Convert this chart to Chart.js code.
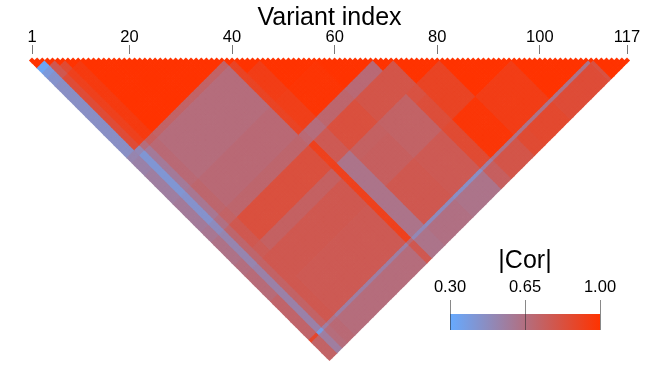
<!DOCTYPE html>
<html>
<head>
<meta charset="utf-8">
<style>
    html, body { margin: 0; background: #fff; }
    canvas { display: block; }
</style>
<script src="https://cdn.jsdelivr.net/npm/chart.js@4"></script>
</head>
<body>
<canvas id="ld" width="660" height="390"></canvas>
<script>
// first variant of each block, last entry closes the last block
const blockStarts = [1, 4, 6, 8, 11, 39, 41, 46, 57, 68, 72, 81, 85, 95, 110, 111, 118];

// |Cor| between blocks, upper triangle, one row per block
const corRows = [
    [1.00, .33, .40, .44, .46, .52, .54, .56, .58, .60, .63, .65, .67, .71, .88, .72],
    [1.00, .78, .78, .85, .50, .42, .42, .44, .48, .52, .52, .54, .54, .38, .56],
    [1.00, .86, .92, .66, .58, .58, .60, .64, .70, .70, .72, .72, .55, .66],
    [1.00, .96, .74, .68, .68, .70, .72, .78, .76, .78, .78, .60, .68],
    [1.00, .72, .66, .66, .68, .70, .83, .73, .78, .77, .55, .66],
    [1.00, .90, .90, .90, .68, .92, .92, .92, .92, .68, .78],
    [1.00, .94, .93, .66, .77, .62, .62, .62, .50, .62],
    [1.00, .99, .70, .83, .73, .74, .78, .48, .64],
    [1.00, .68, .80, .72, .72, .77, .46, .62],
    [1.00, .80, .82, .84, .86, .55, .74],
    [1.00, .90, .90, .98, .62, .80],
    [1.00, 1.00, .94, .62, .86],
    [1.00, .94, .62, .87],
    [1.00, .62, .85],
    [1.00, .82],
    [1.00]
];

const variantTicks = [1, 20, 40, 60, 80, 100, 117];
const corTicks = [0.30, 0.65, 1.00];
const lowColor = [102, 170, 255];
const highColor = [255, 51, 0];

function blockOf(variant) {
    let b = 0;
    while (variant >= blockStarts[b + 1]) b++;
    return b;
}

function corColor(cor) {
    const t = (cor - corTicks[0]) / (corTicks[2] - corTicks[0]);
    const c = lowColor.map((low, k) => Math.round(low + (highColor[k] - low) * t));
    return `rgb(${c[0]},${c[1]},${c[2]})`;
}

const cells = [];
const cellColors = [];
const lastVariant = blockStarts[blockStarts.length - 1] - 1;
for (let i = 1; i <= lastVariant; i++) {
    for (let j = i; j <= lastVariant; j++) {
        const bi = blockOf(i);
        const bj = blockOf(j);
        cells.push({ x: (i + j) / 2, y: j - i });
        cellColors.push(corColor(corRows[bi][bj - bi]));
    }
}

// colour bar with its ticks, title and labels
const corLegend = {
    id: 'corLegend',
    afterDraw(chart) {
        const ctx = chart.ctx;
        const left = 450, right = 600, top = 314, bottom = 330;
        const grad = ctx.createLinearGradient(left, 0, right, 0);
        grad.addColorStop(0, corColor(corTicks[0]));
        grad.addColorStop(1, corColor(corTicks[2]));
        ctx.save();
        ctx.fillStyle = grad;
        ctx.fillRect(left, top, right - left, bottom - top);
        ctx.fillStyle = '#000';
        ctx.textAlign = 'center';
        ctx.textBaseline = 'middle';
        ctx.font = '16.5px "Liberation Sans"';
        corTicks.forEach(v => {
            const x = left + (right - left) * (v - corTicks[0]) / (corTicks[2] - corTicks[0]);
            ctx.fillText(v.toFixed(2), x, 287);
            ctx.strokeStyle = 'rgba(40,40,40,0.55)';
            ctx.beginPath();
            ctx.moveTo(x + 0.5, 300);
            ctx.lineTo(x + 0.5, bottom);
            ctx.stroke();
        });
        ctx.font = '25px "Liberation Sans"';
        ctx.fillText('|Cor|', 525, 261);
        ctx.restore();
    }
};

new Chart(document.getElementById('ld'), {
    type: 'scatter',
    data: {
        datasets: [{
            data: cells,
            pointStyle: 'rectRot',
            pointBackgroundColor: cellColors,
            pointBorderWidth: 0,
            pointRadius: c => c.chart.scales.x.width / 116 / 2 + 0.5,
            clip: false
        }]
    },
    plugins: [corLegend],
    options: {
        responsive: false,
        animation: false,
        events: [],
        layout: { padding: { left: 32, right: 33, top: 0, bottom: 0 } },
        plugins: { legend: { display: false }, tooltip: { enabled: false } },
        scales: {
            x: {
                type: 'linear',
                position: 'top',
                min: 1,
                max: 117,
                afterBuildTicks: s => { s.ticks = variantTicks.map(value => ({ value })); },
                afterFit: s => { s.height = 54; },
                border: { display: false },
                grid: { drawOnChartArea: false, tickLength: 9, color: '#777' },
                ticks: { autoSkip: false, maxRotation: 0, padding: -2, color: '#000', font: { family: '"Liberation Sans"', size: 16.5 } },
                title: { display: true, text: 'Variant index', color: '#000', padding: { top: 3, bottom: 0 }, font: { family: '"Liberation Sans"', size: 25, weight: 'normal' } }
            },
            y: {
                display: false,
                reverse: true,
                min: -2.53,
                max: 128.46
            }
        }
    }
});
</script>
</body>
</html>
